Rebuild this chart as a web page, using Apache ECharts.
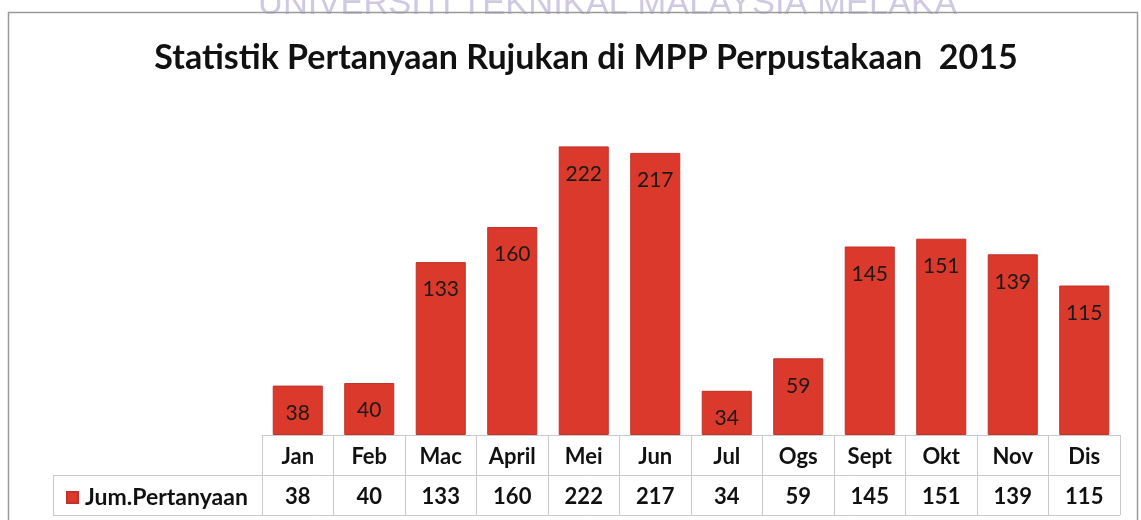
<!DOCTYPE html>
<html>
<head>
<meta charset="utf-8">
<script src="https://cdn.jsdelivr.net/npm/echarts@6/dist/echarts.min.js"></script>
<style>
  html, body { margin: 0; padding: 0; background: #fff; }
  #chart { width: 1141px; height: 520px; }
</style>
</head>
<body>
<div id="chart"></div>
<script>
var months = ['Jan','Feb','Mac','April','Mei','Jun','Jul','Ogs','Sept','Okt','Nov','Dis']
var jumPertanyaan = [38, 40, 133, 160, 222, 217, 34, 59, 145, 151, 139, 115]
var seriesName = 'Jum.Pertanyaan'

var GRID_LEFT = 262, GRID_RIGHT = 21, GRID_TOP = 110, GRID_BOTTOM = 85
var W = 1141, H = 520
var tableTop = H - GRID_BOTTOM
var lineColor = '#c9c9c9'
var fontMain = 'Lato, "Noto Sans", sans-serif'

var mychart = echarts.init(document.getElementById('chart'), null, {renderer: 'canvas'})

var option = {
  backgroundColor: '#fff',
  animation: false,
  title: {
    text: 'Statistik Pertanyaan Rujukan di MPP Perpustakaan  2015',
    left: 581,
    top: 36,
    textAlign: 'center',
    textStyle: {fontFamily: fontMain, fontWeight: 'bold', fontSize: 34, color: '#111'}
  },
  legend: {
    data: [seriesName],
    left: 61,
    top: tableTop + 46,
    icon: 'rect',
    itemWidth: 11,
    itemHeight: 11,
    itemGap: 4,
    textStyle: {fontFamily: fontMain, fontWeight: 'bold', fontSize: 23, color: '#111', padding: [0, 0, 0, 2]}
  },
  grid: {left: GRID_LEFT, right: GRID_RIGHT, top: GRID_TOP, bottom: GRID_BOTTOM},
  xAxis: {
    type: 'category',
    data: months,
    axisLine: {lineStyle: {color: lineColor, width: 1}},
    axisTick: {show: true, interval: 0, length: 80, lineStyle: {color: lineColor}},
    axisLabel: {
      interval: 0,
      margin: 2,
      formatter: (val, idx) => '{m|' + val + '}\n{v|' + jumPertanyaan[idx] + '}',
      rich: {
        m: {fontFamily: fontMain, fontWeight: 'bold', fontSize: 22, color: '#111', lineHeight: 40},
        v: {fontFamily: fontMain, fontWeight: 'bold', fontSize: 22, color: '#111', lineHeight: 40}
      }
    }
  },
  yAxis: {
    type: 'value',
    min: 0,
    max: 250,
    interval: 50,
    show: false,
    splitLine: {show: false}
  },
  series: [{
    name: seriesName,
    type: 'bar',
    data: jumPertanyaan,
    barWidth: '70%',
    itemStyle: {color: '#db392b', borderColor: '#c0322a', borderWidth: 1},
    label: {
      show: true,
      position: 'insideTop',
      distance: 17,
      fontFamily: fontMain,
      fontSize: 21,
      color: '#1a1a1a'
    }
  }],
  graphic: [
    // watermark cut by the top edge
    {type: 'text', left: 258, top: -13, z: 0,
      style: {text: 'UNIVERSITI TEKNIKAL MALAYSIA MELAKA', fontFamily: '"Liberation Sans", Arial, sans-serif',
        fontSize: 34.5, fill: '#cfc9e2'}},
    // chart frame
    {type: 'rect', shape: {x: 8.5, y: 12.5, width: W - 12, height: H + 10}, z: 1,
      style: {fill: 'none', stroke: '#9a9a9a', lineWidth: 1.5}},
    // data table lines
    {type: 'line', shape: {x1: 53, y1: tableTop + 40.5, x2: W - GRID_RIGHT, y2: tableTop + 40.5}, style: {stroke: lineColor}},
    {type: 'line', shape: {x1: 53, y1: tableTop + 80.5, x2: W - GRID_RIGHT, y2: tableTop + 80.5}, style: {stroke: lineColor}},
    {type: 'line', shape: {x1: 53.5, y1: tableTop + 40, x2: 53.5, y2: tableTop + 80}, style: {stroke: lineColor}}
  ]
}

mychart.setOption(option)
</script>
</body>
</html>
